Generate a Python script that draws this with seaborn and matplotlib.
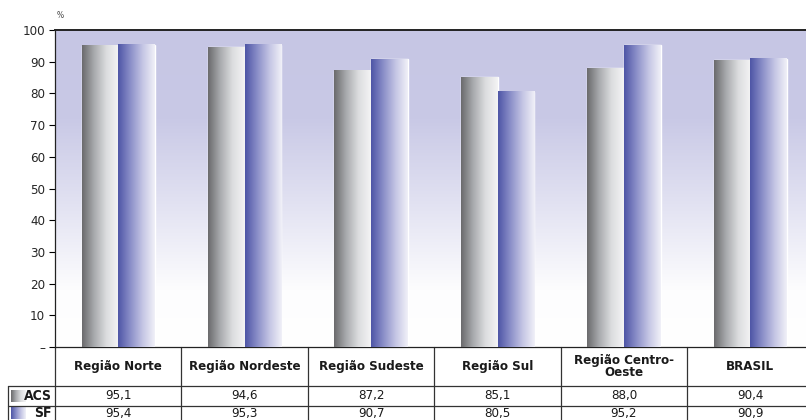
import numpy as np
import pandas as pd
import matplotlib
matplotlib.use('Agg')
import matplotlib.pyplot as plt
import seaborn as sns
from matplotlib.colors import LinearSegmentedColormap
from matplotlib.lines import Line2D
from matplotlib.transforms import blended_transform_factory

# ── data ──────────────────────────────────────────────────────────────
regions = ['Região Norte', 'Região Nordeste', 'Região Sudeste', 'Região Sul',
           'Região Centro-\nOeste', 'BRASIL']
acs = [95.1, 94.6, 87.2, 85.1, 88.0, 90.4]
sf = [95.4, 95.3, 90.7, 80.5, 95.2, 90.9]
series = ['ACS', 'SF']
y_ticks = list(range(0, 101, 10))
y_tick_labels = ['–'] + [str(v) for v in range(10, 101, 10)]

df = pd.DataFrame({
    'regiao': regions * 2,
    'serie': [series[0]] * len(regions) + [series[1]] * len(regions),
    'valor': acs + sf,
})

# ── style ─────────────────────────────────────────────────────────────
sns.set_style('white')
plt.rcParams['font.family'] = ['DejaVu Sans']
plt.rcParams['font.stretch'] = 'condensed'

W, H = 806, 420
fig = plt.figure(figsize=(W / 100, H / 100), dpi=100)


def fx(x):
    return x / W


def fy(y):
    return 1 - y / H


ax_left, ax_top, ax_bottom = 55, 30, 347
ax = fig.add_axes([fx(ax_left), fy(ax_bottom), 1 - fx(ax_left), (ax_bottom - ax_top) / H])

gray_cmap = LinearSegmentedColormap.from_list('g', ['#6a6a6c', '#a9abae', '#dcdddf', '#f4f4f5'])
blue_cmap = LinearSegmentedColormap.from_list('b', ['#4e55a6', '#8a8ec8', '#c4c5e4', '#f1f1f8'])
cmaps = [gray_cmap, blue_cmap]

sns.barplot(data=df, x='regiao', y='valor', hue='serie', palette=['#909090', '#7076b8'],
            width=0.58, errorbar=None, legend=False, ax=ax, zorder=2)

xlim = (-0.5, 5.44)
grad = np.linspace(0, 1, 256).reshape(1, -1)

# background gradient
bg_cmap = LinearSegmentedColormap.from_list(
    'bg', [(0, '#ffffff'), (0.18, '#fdfdfe'), (0.45, '#e2e2f2'), (0.72, '#c9c9e6'), (1, '#c6c6e4')])
ax.imshow(np.linspace(0, 1, 256).reshape(-1, 1), cmap=bg_cmap, origin='lower',
          extent=[xlim[0], xlim[1], 0, 100], aspect='auto', zorder=0)

for container, cmap in zip(ax.containers, cmaps):
    for bar in container:
        x0, w, h = bar.get_x(), bar.get_width(), bar.get_height()
        ax.imshow(grad, cmap=cmap, extent=[x0, x0 + w, 0, h], aspect='auto',
                  zorder=3, interpolation='bilinear')

ax.set_xlim(*xlim)
ax.set_ylim(0, 100)
ax.set_xticks([])
ax.set_xlabel('')
ax.set_ylabel('')
ax.set_yticks(y_ticks)
ax.set_yticklabels(y_tick_labels, fontsize=9.5)
ax.tick_params(axis='y', length=4, width=0.8, color='black', pad=3, left=True)
for side in ['left', 'top', 'bottom']:
    ax.spines[side].set_visible(True)
    ax.spines[side].set_color('#222222')
ax.spines['left'].set_linewidth(0.9)
ax.spines['bottom'].set_linewidth(0.9)
ax.spines['top'].set_linewidth(1.4)
ax.spines['right'].set_visible(False)

fig.text(fx(60), fy(15), '%', fontsize=6, color='#444444', ha='center', va='center')

# ── table under the chart ────────────────────────────────────────────
trans = blended_transform_factory(ax.transData, ax.transAxes)
ax_h = ax_bottom - ax_top


def ay(y):
    return -(y - ax_bottom) / ax_h


line_kw = dict(color='#333333', lw=0.9)

for i in range(len(regions) + 1):
    ax.add_line(Line2D([i - 0.5, i - 0.5], [0, ay(425)], transform=trans,
                       clip_on=False, **line_kw))

for y in (386, 406):
    fig.add_artist(Line2D([fx(8), 1], [fy(y), fy(y)], transform=fig.transFigure, **line_kw))
fig.add_artist(Line2D([fx(8), fx(8)], [fy(386), fy(425)], transform=fig.transFigure, **line_kw))

row_y = (396, 413)
for i, name in enumerate(regions):
    ax.text(i, ay(366.5), name, transform=trans, ha='center', va='center',
            fontsize=9.5, fontweight='bold', linespacing=0.85, color='#1a1a1a')
    ax.text(i, ay(row_y[0]), f'{acs[i]:.1f}'.replace('.', ','), transform=trans,
            ha='center', va='center', fontsize=9.5, color='#1a1a1a')
    ax.text(i, ay(row_y[1]), f'{sf[i]:.1f}'.replace('.', ','), transform=trans,
            ha='center', va='center', fontsize=9.5, color='#1a1a1a')

for name, cmap, y in zip(series, cmaps, row_y):
    sw = fig.add_axes([fx(11), fy(y + 6), fx(15), 12 / H])
    sw.imshow(grad, cmap=cmap, aspect='auto', extent=[0, 1, 0, 1])
    sw.set_axis_off()
    fig.text(fx(52), fy(y), name, ha='right', va='center', fontsize=10,
             fontweight='bold', color='#1a1a1a')

fig.savefig('out.png', dpi=100)
plt.close(fig)
